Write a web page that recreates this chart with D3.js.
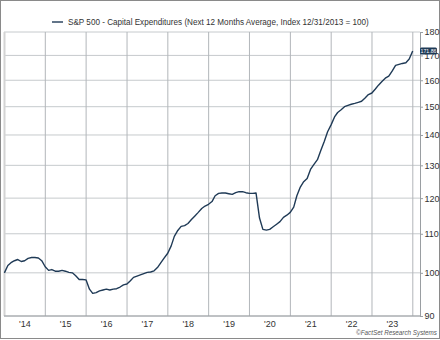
<!DOCTYPE html>
<html>
<head>
<meta charset="utf-8">
<script src="https://cdn.jsdelivr.net/npm/d3@7"></script>
<style>
  html, body { margin: 0; padding: 0; background: #fff; }
  svg { display: block; font-family: "Liberation Sans", Arial, sans-serif; }
</style>
</head>
<body>
<svg id="chart" width="440" height="340"></svg>
<script>
// Month-end index levels, 12/31/2013 = 100
const seriesName = "S&P 500 - Capital Expenditures (Next 12 Months Average, Index 12/31/2013 = 100)";
const startYear = 2014;
const capexIndex = [
  100.0, 101.8, 102.5, 103.0, 103.3, 102.8, 103.0, 103.6, 103.8, 103.8, 103.7, 103.0,
  101.5, 100.6, 100.8, 100.4, 100.4, 100.6, 100.4, 100.1, 100.0, 99.3, 98.4, 98.4,
  98.3, 96.1, 95.1, 95.3, 95.7, 95.9, 96.1, 95.9, 96.1, 96.2, 96.6, 97.1,
  97.3, 98.1, 98.9, 99.2, 99.5, 99.8, 100.1, 100.2, 100.5, 101.3, 102.5, 103.7,
  104.9, 106.8, 109.3, 110.9, 112.0, 112.2, 112.8, 113.9, 114.9, 115.9, 117.0, 117.7,
  118.2, 119.0, 120.7, 121.4, 121.5, 121.5, 121.3, 121.1, 121.6, 121.9, 121.9, 121.6,
  121.4, 121.4, 121.5, 114.3, 111.2, 111.0, 111.2, 111.9, 112.6, 113.3, 114.5, 115.1,
  115.9, 117.4, 120.7, 123.3, 124.9, 125.9, 128.7, 130.3, 131.8, 134.8, 137.8, 141.1,
  143.5, 146.3, 147.9, 148.9, 150.0, 150.5, 150.9, 151.2, 151.6, 152.0, 153.2, 154.5,
  155.1, 156.6, 158.1, 159.5, 160.8, 161.6, 163.6, 165.9, 166.3, 166.7, 167.0, 168.5,
  171.86
];
const yTicks = [90, 100, 110, 120, 130, 140, 150, 160, 170, 180];
const yearLabels = ["'14", "'15", "'16", "'17", "'18", "'19", "'20", "'21", "'22", "'23"];
const credit = "\u00A9FactSet Research Systems";

// month-end dates: 12/31/2013, 1/31/2014, ...
const points = capexIndex.map((v, i) => ({ date: new Date(startYear, i, 0), value: v }));

const svg = d3.select("#chart");
const lineColor = "#1f3a56";

const x = d3.scaleTime()
  .domain([new Date(startYear, 0, 1), new Date(startYear + yearLabels.length, 0, 1)])
  .range([4.5, 412.8]);
const y = d3.scaleLog().domain([90, 180]).range([316, 32]);
const plotLeft = 4, plotRight = 420;

// outer frame
svg.append("rect")
  .attr("x", 0.5).attr("y", 0.5).attr("width", 439).attr("height", 338)
  .attr("fill", "none").attr("stroke", "#8a8a8a");

// horizontal grid
svg.append("g").selectAll("line").data(yTicks).join("line")
  .attr("x1", plotLeft).attr("x2", plotRight)
  .attr("y1", d => y(d)).attr("y2", d => y(d))
  .attr("stroke", "#c6cacd").attr("stroke-width", 1);

// vertical year grid
const yearStarts = d3.range(startYear, startYear + yearLabels.length + 1).map(yr => new Date(yr, 0, 1));
svg.append("g").selectAll("line").data(yearStarts).join("line")
  .attr("x1", d => x(d)).attr("x2", d => x(d))
  .attr("y1", y(180)).attr("y2", y(90))
  .attr("stroke", (d, i) => i === 0 ? "#d4d4d4" : "#b2b6ba")
  .attr("stroke-width", (d, i) => i === 0 ? 2 : 1);

// bottom axis line
svg.append("line")
  .attr("x1", plotLeft).attr("x2", plotRight)
  .attr("y1", y(90)).attr("y2", y(90))
  .attr("stroke", "#9a9ea2");

// right value axis
const yAxis = d3.axisRight(y).tickValues(yTicks).tickFormat(d3.format("d")).tickSize(3).tickPadding(1.5);
const gy = svg.append("g").attr("transform", `translate(${plotRight},0)`).call(yAxis);
gy.select(".domain").attr("stroke", "#9a9ea2");
gy.selectAll(".tick line").attr("stroke", "#9a9ea2");
gy.selectAll(".tick text").attr("fill", "#333").style("font-size", "9px")
  .style("font-family", "'Liberation Sans', Arial, sans-serif");

// year labels, centered in each year
svg.append("g").selectAll("text").data(yearLabels).join("text")
  .attr("x", (d, i) => (x(yearStarts[i]) + x(yearStarts[i + 1])) / 2)
  .attr("y", 327)
  .attr("text-anchor", "middle")
  .attr("fill", "#333").style("font-size", "9px")
  .text(d => d);

// series line
const line = d3.line().x(d => x(d.date)).y(d => y(d.value));
svg.append("path").datum(points)
  .attr("d", line)
  .attr("fill", "none")
  .attr("stroke", lineColor)
  .attr("stroke-width", 1.4)
  .attr("stroke-linejoin", "round");

// last value tag, drawn over the axis
const last = points[points.length - 1];
svg.append("rect")
  .attr("x", plotRight).attr("y", y(last.value) - 3.5)
  .attr("width", 17).attr("height", 7).attr("rx", 1.5)
  .attr("fill", lineColor);
svg.append("text")
  .attr("x", plotRight + 8.5).attr("y", y(last.value) + 1.8)
  .attr("text-anchor", "middle").attr("fill", "#fff")
  .style("font-size", "5.2px")
  .text(last.value.toFixed(2));

// legend
svg.append("line")
  .attr("x1", 52).attr("x2", 63).attr("y1", 22).attr("y2", 22)
  .attr("stroke", lineColor).attr("stroke-width", 1.4);
svg.append("text")
  .attr("x", 68).attr("y", 25)
  .attr("fill", "#333").style("font-size", "8.15px")
  .text(seriesName);

// source credit
svg.append("text")
  .attr("x", 437).attr("y", 335)
  .attr("text-anchor", "end")
  .attr("fill", "#555").style("font-size", "6.3px").style("font-style", "italic")
  .text(credit);
</script>
</body>
</html>
